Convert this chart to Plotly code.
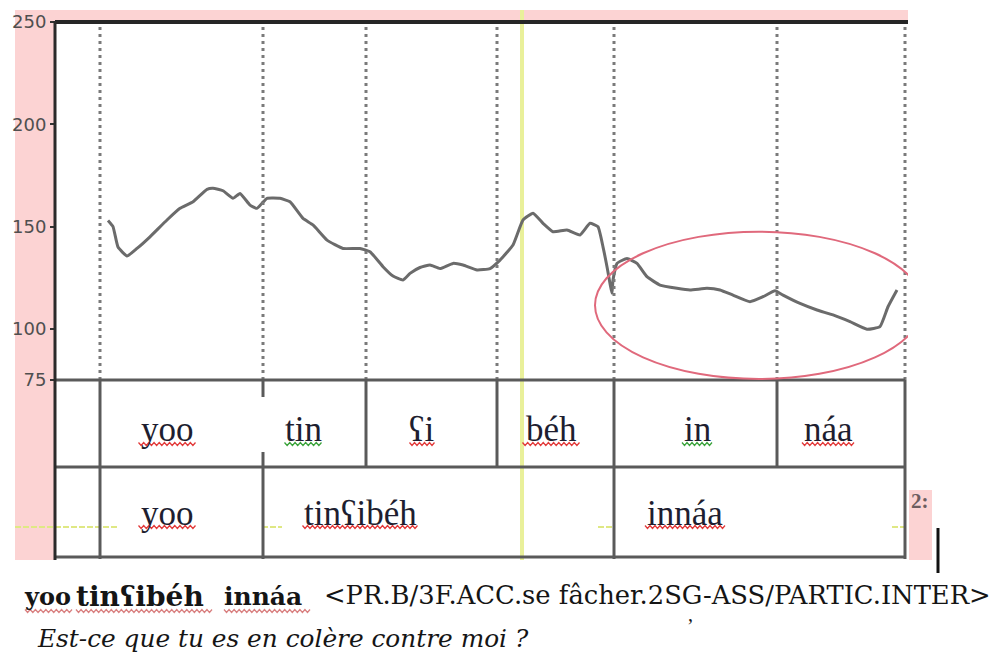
import plotly.graph_objects as go

# ---------------- data ----------------
# time (arbitrary units) and F0 (Hz) of the pitch contour
time = [53, 58, 63, 72, 82, 95, 112, 125, 138, 152, 158, 168, 178, 185, 195, 202, 207, 212,
        225, 235, 248, 258, 272, 288, 305, 315, 328, 338, 348, 355, 365, 375, 385, 398, 408,
        422, 435, 445, 458, 468, 478, 488, 498, 512, 525, 535, 543, 548, 552, 557, 558, 562,
        572, 582, 592, 605, 622, 635, 652, 665, 678, 695, 708, 720, 728, 745, 762, 778, 795,
        812, 825, 833, 842]
f0 = [153, 150, 140, 135.6, 139.3, 145, 153.2, 158.9, 162.1, 168.2, 168.7, 167.5, 163.8, 166.2,
      160.5, 158.9, 161.4, 163.8, 163.8, 162.1, 154, 150.8, 143.4, 139.3, 139.3, 137.7, 130.4,
      125.8, 123.9, 127.1, 130, 131.2, 129.5, 132, 131.2, 128.8, 129.5, 133.6, 141, 153.2, 156.5,
      151.6, 147.5, 148.3, 145.9, 151.6, 149.9, 140.1, 130.4, 117.4, 123.9, 132, 134.4, 132,
      125.5, 121.4, 119.8, 119, 119.8, 119, 116.5, 113.3, 115.7, 118.6, 116.5, 112.4, 109.2,
      106.8, 103.5, 99.8, 101.1, 110.8, 119]

y_ticks = [75, 100, 150, 200, 250]

# syllable tier
syll_bounds = [45, 208, 311, 442, 559, 722, 850]
syll_labels = ["yoo", "tin", "ʕi", "béh", "in", "náa"]
syll_label_x = [112, 248, 367, 496, 642, 773]
syll_label_w = [57, 37, 25, 57, 30, 52]
syll_squiggle = ["red", "green", "red", "red", "green", "red"]

# word tier
word_labels = ["yoo", "tinʕibéh", "innáa"]
word_bounds = [45, 208, 559, 850]
word_label_x = [112, 305, 630]
word_label_w = [57, 115, 80]

cursor_time = 467              # yellow cursor
ellipse_t = [540, 868]         # highlighted region (time)
ellipse_f = [75.5, 147.5]      # highlighted region (Hz)

transcription_words = ["yoo", "tinʕibéh", "innáa"]
gloss = "<PR.B/3F.ACC.se fâcher.2SG-ASS/PARTIC.INTER>"
translation = "Est-ce que tu es en colère contre moi ?"

# ---------------- layout geometry (page pixels) ----------------
W, H = 995, 657
L, TOP, PB, PR = 55, 22, 380, 908
PW = PR - L
PH = PB - TOP
XMAX = PW


def px(xp):   # page pixel x -> paper
    return (xp - L) / PW


def py(yp):   # page pixel y -> paper
    return (PB - yp) / PH


ROW0, ROW1, ROW2 = 380, 467, 557
TABLE_R = L + syll_bounds[-1]

fig = go.Figure()

fig.add_trace(go.Scatter(x=time, y=f0, mode="lines",
                         line=dict(color="#6b6b6b", width=3, shape="spline", smoothing=0.4),
                         hoverinfo="skip", showlegend=False))

shapes = []
pink = "#fcd3d3"
shapes.append(dict(type="rect", xref="paper", yref="paper", x0=px(15), x1=px(L), y0=py(560), y1=py(10),
                   fillcolor=pink, line_width=0, layer="below"))
shapes.append(dict(type="rect", xref="paper", yref="paper", x0=px(15), x1=px(908), y0=py(21), y1=py(10),
                   fillcolor=pink, line_width=0, layer="below"))
shapes.append(dict(type="rect", xref="paper", yref="paper", x0=px(909), x1=px(932), y0=py(560), y1=py(490),
                   fillcolor=pink, line_width=0, layer="below"))

yel = "#e9f09a"
shapes.append(dict(type="line", xref="x", yref="paper", x0=cursor_time, x1=cursor_time, y0=py(560), y1=py(10),
                   line=dict(color=yel, width=4), layer="below"))
for a, b in [(15, 118), (262, 282), (598, 614), (892, 906)]:
    shapes.append(dict(type="line", xref="paper", yref="paper", x0=px(a), x1=px(b), y0=py(527), y1=py(527),
                       line=dict(color="#dfe884", width=2, dash="6px,2px")))

for t in syll_bounds:
    shapes.append(dict(type="line", xref="x", yref="paper", x0=t, x1=t, y0=py(ROW0), y1=py(27),
                       line=dict(color="#7a7a7a", width=3, dash="3px,4px")))

grey = "#5a5a5a"
for yy in [ROW0, ROW1, ROW2]:
    shapes.append(dict(type="line", xref="paper", yref="paper", x0=px(L), x1=px(TABLE_R), y0=py(yy), y1=py(yy),
                       line=dict(color=grey, width=3)))
for t in syll_bounds:
    if t == 208:
        for a, b in [(ROW0, 397), (452, ROW1)]:
            shapes.append(dict(type="line", xref="x", yref="paper", x0=t, x1=t, y0=py(a), y1=py(b),
                               line=dict(color=grey, width=3)))
    else:
        shapes.append(dict(type="line", xref="x", yref="paper", x0=t, x1=t, y0=py(ROW0), y1=py(ROW1),
                           line=dict(color=grey, width=3)))
for t in word_bounds:
    shapes.append(dict(type="line", xref="x", yref="paper", x0=t, x1=t, y0=py(ROW1), y1=py(ROW2 + 2),
                       line=dict(color=grey, width=3)))

shapes.append(dict(type="line", xref="paper", yref="paper", x0=px(L), x1=px(908), y0=py(22), y1=py(22),
                   line=dict(color="#262626", width=4)))
shapes.append(dict(type="line", xref="paper", yref="paper", x0=px(L), x1=px(L), y0=py(560), y1=py(21),
                   line=dict(color="#2a2a2a", width=3)))

shapes.append(dict(type="circle", xref="x", yref="y", x0=ellipse_t[0], x1=ellipse_t[1],
                   y0=ellipse_f[0], y1=ellipse_f[1], line=dict(color="#e0697c", width=2)))

shapes.append(dict(type="line", xref="paper", yref="paper", x0=px(938), x1=px(938), y0=py(573), y1=py(528),
                   line=dict(color="#111111", width=3)))


def squiggle(xc_px, width, ypix, color):
    x0 = xc_px - width / 2
    n = int(width / 2.5)
    pts = []
    for i in range(n + 1):
        xx = x0 + i * width / n
        yy = ypix + (1.5 if i % 2 else -1.5)
        pts.append(f"{px(xx):.5f},{py(yy):.5f}")
    return dict(type="path", xref="paper", yref="paper", path="M" + " L".join(pts),
                line=dict(color=color, width=1.3))


sq_col = {"red": "#e23a3a", "green": "#3aa33a"}
for xc, w, c in zip(syll_label_x, syll_label_w, syll_squiggle):
    shapes.append(squiggle(L + xc, w, 444, sq_col[c]))
for xc, w in zip(word_label_x, word_label_w):
    shapes.append(squiggle(L + xc, w, 527, sq_col["red"]))
for a, b in [(25, 72), (76, 212), (224, 310)]:
    shapes.append(squiggle((a + b) / 2, b - a, 611, "#d98080"))

annotations = []
serif = "Liberation Serif"
for lab, xc in zip(syll_labels, syll_label_x):
    annotations.append(dict(text=lab, x=xc, xref="x", y=py(430), yref="paper", showarrow=False,
                            xanchor="center", yanchor="middle",
                            font=dict(family=serif, size=35, color="#1e1e30")))
for lab, xc in zip(word_labels, word_label_x):
    annotations.append(dict(text=lab, x=xc, xref="x", y=py(513), yref="paper", showarrow=False,
                            xanchor="center", yanchor="middle",
                            font=dict(family=serif, size=35, color="#1e1e30")))

wide = "DejaVu Serif"
for word, xl, fs in zip(transcription_words, [22, 74, 222], [24, 28, 25]):
    annotations.append(dict(text=f"<b>{word}</b>", x=px(xl), xref="paper", y=py(596), yref="paper",
                            showarrow=False, xanchor="left", yanchor="middle",
                            font=dict(family=wide, size=fs, color="#151515")))
annotations.append(dict(text=gloss.replace("<", "&lt;").replace(">", "&gt;"), x=px(322), xref="paper",
                        y=py(595), yref="paper", showarrow=False, xanchor="left", yanchor="middle",
                        font=dict(family=wide, size=25.8, color="#151515")))
annotations.append(dict(text=f"<i>{translation}</i>", x=px(35), xref="paper", y=py(638), yref="paper",
                        showarrow=False, xanchor="left", yanchor="middle",
                        font=dict(family=wide, size=24.8, color="#151515")))
annotations.append(dict(text="’", x=px(690), xref="paper", y=py(626), yref="paper",
                        showarrow=False, xanchor="center", yanchor="middle",
                        font=dict(family=serif, size=20, color="#151515")))
annotations.append(dict(text="<b>2:</b>", x=px(909), xref="paper", y=py(501), yref="paper",
                        showarrow=False, xanchor="left", yanchor="middle",
                        font=dict(family=serif, size=21, color="#6d5d60")))

fig.update_layout(
    width=W, height=H,
    margin=dict(l=L, r=W - PR, t=TOP, b=H - PB, pad=0),
    paper_bgcolor="white", plot_bgcolor="white",
    xaxis=dict(range=[0, XMAX], visible=False, fixedrange=True),
    yaxis=dict(range=[75, 250], tickvals=y_ticks, ticktext=[str(v) for v in y_ticks],
               ticks="outside", ticklen=4, tickwidth=2, tickcolor="#333",
               showgrid=False, zeroline=False, showline=False, fixedrange=True,
               tickfont=dict(family="DejaVu Sans", size=18, color="#4f4f4f")),
    shapes=shapes,
    annotations=annotations,
    showlegend=False,
)

fig.write_html("out.html", config={"displayModeBar": False},
               post_script="document.body.style.margin='0';document.body.style.overflow='hidden';")
